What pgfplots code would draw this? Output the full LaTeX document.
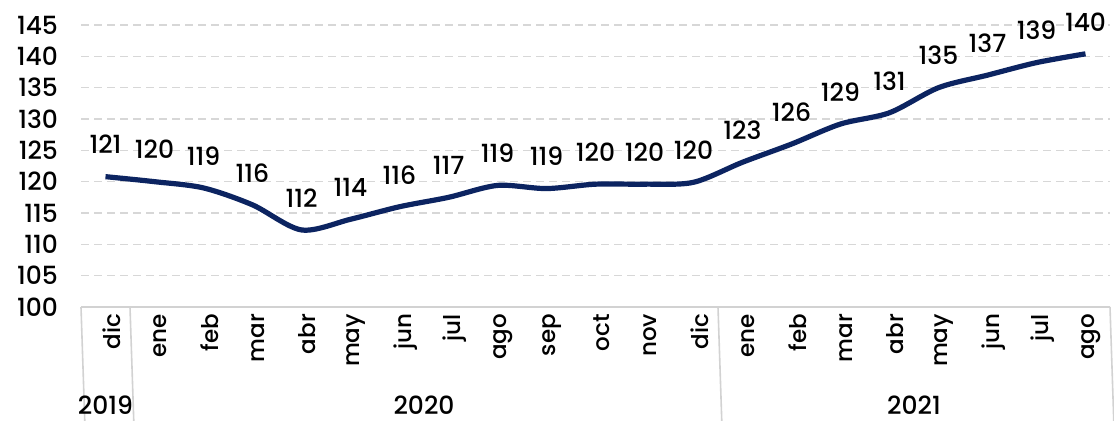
\documentclass[border=0pt]{standalone}
\usepackage{fontspec}
\setmainfont{Poppins}[UprightFont={* Medium}]
\usepackage{pgfplots}
\pgfplotsset{compat=1.18}
\definecolor{navy}{RGB}{12,36,97}
\definecolor{gridc}{RGB}{215,215,215}
\definecolor{boxc}{RGB}{210,210,210}
\begin{document}
\begin{tikzpicture}
\begin{axis}[
  width=514.5pt, height=141pt, scale only axis,
  xmin=-0.5, xmax=20.5, ymin=100, ymax=145,
  axis line style={draw=none}, tick style={draw=none},
  ytick={100,105,...,145}, ymajorgrids,
  grid style={gridc, dash pattern=on 4pt off 2.5pt, line width=0.7pt},
  xtick={0,...,20},
  xticklabels={dic,ene,feb,mar,abr,may,jun,jul,ago,sep,oct,nov,dic,ene,feb,mar,abr,may,jun,jul,ago},
  xticklabel style={rotate=90, anchor=east, font=\fontsize{11.5}{13}\selectfont, yshift=-3pt},
  yticklabel style={font=\fontsize{12.5}{14}\selectfont, xshift=-8pt},
  /pgf/number format/assume math mode=true,
  clip=false,
  nodes near coords, point meta=explicit symbolic,
  every node near coord/.style={anchor=center, yshift=16pt, font=\fontsize{12.5}{14}\selectfont, black},
]
\addplot[navy, line width=2.6pt, smooth, tension=0.5] table[meta=lab] {
x y lab
0 120.8 121
1 120.0 120
2 119.0 119
3 116.3 116
4 112.3 112
5 114.0 114
6 116.0 116
7 117.5 117
8 119.4 119
9 118.9 119
10 119.6 120
11 119.6 120
12 119.9 120
13 123.1 123
14 126.0 126
15 129.2 129
16 131.0 131
17 135.0 135
18 137.0 137
19 139.0 139
20 140.4 140
};
\coordinate (bl) at (rel axis cs:0,0);
\draw[boxc, line width=0.8pt] (axis cs:-0.5,100) -- (axis cs:20.5,100);
\draw[boxc, line width=0.8pt] (axis cs:-0.5,100) -- ++(0,-57pt);
\draw[boxc, line width=0.8pt] (axis cs:0.5,100) -- ++(0,-57pt);
\draw[boxc, line width=0.8pt] (axis cs:12.5,100) -- ++(0,-57pt);
\draw[boxc, line width=0.8pt] (axis cs:20.5,100) -- ++(0,-57pt);
\node[font=\fontsize{12.5}{14}\selectfont] at ([yshift=-49pt]axis cs:0,100) {2019};
\node[font=\fontsize{12.5}{14}\selectfont] at ([yshift=-49pt]axis cs:6.5,100) {2020};
\node[font=\fontsize{12.5}{14}\selectfont] at ([yshift=-49pt]axis cs:16.5,100) {2021};
\end{axis}
\pgfresetboundingbox
\path[use as bounding box] ([shift={(-40.5pt,-57pt)}]bl) rectangle ([shift={(516.5pt,153.5pt)}]bl);
\end{tikzpicture}
\end{document}
